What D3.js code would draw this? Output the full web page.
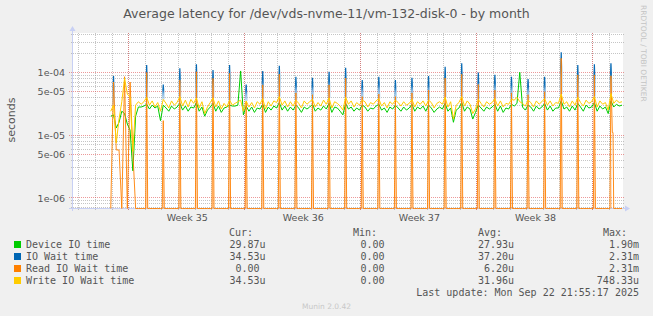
<!DOCTYPE html>
<html><head><meta charset="utf-8">
<script src="https://cdn.jsdelivr.net/npm/d3@7"></script>
<style>
html,body{margin:0;padding:0;background:#F0F0F0;}
svg{display:block;}
</style></head><body>
<svg id="chart" width="653" height="316"></svg>
<script>
// ---------------- data ----------------
const title = "Average latency for /dev/vds-nvme-11/vm-132-disk-0 - by month";
const yAxisTitle = "seconds";
const seriesNames = ["Device IO time", "IO Wait time", "Read IO Wait time", "Write IO Wait time"];
const seriesColors = ["#00CC00", "#0066B3", "#FF8000", "#FFCC00"];
const legendHeaders = ["Cur:", "Min:", "Avg:", "Max:"];
const legendCur = ["29.87u", "34.53u", "0.00", "34.53u"];
const legendMin = ["0.00", "0.00", "0.00", "0.00"];
const legendAvg = ["27.93u", "37.20u", "6.20u", "31.96u"];
const legendMax = ["1.90m", "2.31m", "2.31m", "748.33u"];
const lastUpdate = "Last update: Mon Sep 22 21:55:17 2025";
const footer = "Munin 2.0.42";
const watermark = "RRDTOOL / TOBI OETIKER";

const yTickValues = [1e-4, 5e-5, 1e-5, 5e-6, 1e-6];
const yTickLabels = ["1e-04", "5e-05", "1e-05", "5e-06", "1e-06"];
const weekStarts = ["2025-08-24", "2025-08-31", "2025-09-07", "2025-09-14"];
const weekLabels = ["Week 35", "Week 36", "Week 37", "Week 38"];
const viewStart = "2025-08-20T13:55:00Z";
const viewEnd = "2025-09-22T19:26:00Z";
const yDomain = [6.905e-7, 4.224e-4];

// 4-hourly samples (microseconds) starting at sampleStart
const sampleStart = "2025-08-22T22:00:00Z";
const sampleHours = 4;
const deviceIO = [
 20,21,13,16,24,22, 15,12,2.7,20,28,28, 29,31,26,30,27,29, 17,30,27,24,29,26,
 28,32,25,29,24,28, 27,33,24,28,20,25, 28,32,24,29,23,27, 28,30,29,29,30,105,
 21,29,24,28,23,27, 26,31,23,28,25,29, 27,33,25,29,24,28, 25,30,27,23,28,26,
 28,31,24,27,25,29, 26,32,23,28,27,24, 21,32,26,28,24,27, 25,30,28,24,27,26,
 29,31,25,27,23,28, 26,30,27,24,28,25, 27,31,24,28,26,29, 24,30,27,23,26,28,
 26,32,24,27,16,25, 27,33,24,28,26,18, 23,30,27,24,28,26, 28,31,24,29,23,27,
 26,31,29,32,100,28, 25,30,28,24,29,26, 28,32,25,29,24,27, 27,35,26,28,24,29,
 25,32,28,24,30,27, 28,33,24,29,26,28, 22,35,28,31,29,30
];
const writeWait = [
 24,30,7.5,18,34,80, 45,40,5.5,30,34,31, 34,40,30,35,28,33, 24,37,32,27,35,30,
 33,41,29,36,28,37, 32,39,27,34,22,28, 33,39,28,35,26,32, 28,36,30,32,34,36,
 24,35,28,33,27,34, 31,38,26,34,29,35, 33,41,30,35,28,34, 29,36,32,27,35,31,
 34,37,28,33,29,36, 31,39,27,34,32,29, 25,40,31,35,28,33, 30,36,34,28,33,31,
 35,38,29,33,27,34, 31,36,33,29,34,30, 32,37,28,34,31,35, 29,36,33,27,32,34,
 31,40,28,34,18,30, 33,41,29,35,31,22, 26,37,32,28,34,31, 33,38,29,35,28,32,
 31,37,36,40,34,32, 29,36,33,28,35,31, 34,38,30,35,29,33, 32,45,31,34,28,35,
 30,40,33,29,36,32, 34,41,28,35,31,33, 25,46,32,36,33,34
];
// read wait during the first samples (0 = no reads)
const readWaitEarly = [0, 70, 5.8, 5.8, 0, 85, 0, 70, 5.5, 0, 0];

// daily spikes (backup jobs), one per day starting at spikeStart
const spikeStart = "2025-08-23T02:00:00Z";
const ioWaitPeaks = [87,null,131,64,116,134,109,131,64,105,127,85,82,102,118,75,85,75,82,87,123,139,99,91,85,78,85,208,131,134,139];
const readWaitPeaks = [null,null,99,17,75,102,80,96,34,63,93,47,44,63,81,41,45,41,47,52,81,93,64,52,47,44,49,167,91,91,88];
const readWaitAfter = [null,null,null,null,null,null,null,null,null,null,null,null,null,null,null,null,null,null,null,null,null,null,null,null,null,null,null,null,null,null,11];

// ---------------- layout ----------------
const svg = d3.select("#chart");
const X0 = 72, X1 = 623, Y0 = 208, Y1 = 33;
const H = 3600e3, D = 86400e3;
const textCol = "#555";
const spikeHalf = 1.5 * H;

svg.append("rect").attr("width", 653).attr("height", 316).attr("fill", "#F0F0F0");
svg.append("rect").attr("x", X0).attr("y", Y1).attr("width", X1 - X0).attr("height", Y0 - Y1).attr("fill", "#FFFFFF");

const x = d3.scaleUtc().domain([new Date(viewStart), new Date(viewEnd)]).range([X0, X1]);
const y = d3.scaleLog().domain(yDomain).range([Y0, Y1]).clamp(true);
const yPos = v => v > 0 ? y(v) : Y0 + 0.5;
const px = v => Math.round(v) + 0.5;

// horizontal grid
const minorVals = [], majorVals = [];
for (let e = -7; e <= -3; e++) {
  [1, 5].forEach(m => { const v = m * Math.pow(10, e); if (v >= yDomain[0] && v <= yDomain[1]) majorVals.push(v); });
  [2, 3, 4, 6, 7, 8, 9].forEach(m => { const v = m * Math.pow(10, e); if (v >= yDomain[0] && v <= yDomain[1]) minorVals.push(v); });
}
const grid = svg.append("g").attr("shape-rendering", "crispEdges");
grid.selectAll(".hmin").data(minorVals).join("line")
  .attr("x1", X0 - 1).attr("x2", X1 + 1).attr("y1", d => px(y(d) - 0.5)).attr("y2", d => px(y(d) - 0.5))
  .attr("stroke", "rgba(140,140,140,0.5)").attr("stroke-dasharray", "1,1");
const days = d3.utcDay.range(x.domain()[0], x.domain()[1]);
const sundays = d3.utcSunday.range(x.domain()[0], x.domain()[1]);
grid.selectAll(".vmin").data(days).join("line")
  .attr("x1", d => px(x(d) - 0.5)).attr("x2", d => px(x(d) - 0.5)).attr("y1", Y1).attr("y2", Y0 + 2)
  .attr("stroke", "rgba(140,140,140,0.5)").attr("stroke-dasharray", "1,1");
grid.selectAll(".hmaj").data(majorVals).join("line")
  .attr("x1", X0 - 3).attr("x2", X1 + 2).attr("y1", d => px(y(d) - 0.5)).attr("y2", d => px(y(d) - 0.5))
  .attr("stroke", "rgba(220,70,70,0.55)").attr("stroke-dasharray", "1,1");
grid.selectAll(".vmaj").data(sundays).join("line")
  .attr("x1", d => px(x(d) - 0.5)).attr("x2", d => px(x(d) - 0.5)).attr("y1", Y1).attr("y2", Y0 + 3)
  .attr("stroke", "rgba(220,70,70,0.55)").attr("stroke-dasharray", "1,1");

// axes lines + arrows
const axisCol = "#C8D0F4";
svg.append("line").attr("x1", X0 + 0.5).attr("x2", X0 + 0.5).attr("y1", Y0 + 3).attr("y2", Y1 - 3)
  .attr("stroke", axisCol).attr("shape-rendering", "crispEdges");
svg.append("line").attr("x1", X0 - 3).attr("x2", X1 + 3).attr("y1", Y0 + 0.5).attr("y2", Y0 + 0.5)
  .attr("stroke", axisCol).attr("shape-rendering", "crispEdges");
svg.append("path").attr("d", `M${X0 - 2.5},${Y1 - 2} L${X0 + 3.5},${Y1 - 2} L${X0 + 0.5},${Y1 - 7} Z`).attr("fill", axisCol);
svg.append("path").attr("d", `M${X1 + 2},${Y0 - 2.5} L${X1 + 2},${Y0 + 3.5} L${X1 + 7},${Y0 + 0.5} Z`).attr("fill", axisCol);

// axis labels via d3 axes
const yAx = svg.append("g").attr("transform", `translate(${X0},0)`)
  .call(d3.axisLeft(y).tickValues(yTickValues).tickFormat((d, i) => yTickLabels[i]).tickSize(0).tickPadding(7));
yAx.select(".domain").remove();
yAx.selectAll("text").attr("font-family", "DejaVu Sans").attr("font-size", 9.5).attr("fill", textCol).attr("dy", "0.34em");

const mids = weekStarts.map(s => new Date(new Date(s + "T00:00:00Z").getTime() + 3.5 * D));
const xAx = svg.append("g").attr("transform", `translate(0,${Y0})`)
  .call(d3.axisBottom(x).tickValues(mids).tickFormat((d, i) => weekLabels[i]).tickSize(0));
xAx.select(".domain").remove();
xAx.selectAll("text").attr("font-family", "DejaVu Sans").attr("font-size", 9.5).attr("fill", textCol)
  .attr("y", 12.8).attr("dy", 0);

// ---------------- series ----------------
const clip = svg.append("clipPath").attr("id", "plotclip");
clip.append("rect").attr("x", X0).attr("y", Y1).attr("width", X1 - X0).attr("height", Y0 - Y1 + 1);
const plot = svg.append("g").attr("clip-path", "url(#plotclip)");

const t0 = new Date(sampleStart).getTime();
const sT0 = new Date(spikeStart).getTime();
const sampleTime = i => t0 + i * sampleHours * H;
const line = d3.line().x(d => x(new Date(d[0]))).y(d => yPos(d[1] * 1e-6));

const devPts = deviceIO.map((v, i) => [sampleTime(i), v]);
const wrPts = writeWait.map((v, i) => [sampleTime(i), v]);
const spikes = ioWaitPeaks.map((v, k) => {
  const t = sT0 + k * D;
  const idx = Math.round((t - t0) / (sampleHours * H));
  return { t, idx, io: v, rd: readWaitPeaks[k], after: readWaitAfter[k] };
});

// green
plot.append("path").attr("d", line(devPts)).attr("fill", "none").attr("stroke", seriesColors[0]).attr("stroke-width", 1);

// blue spikes
const bgrad = svg.append("defs").append("linearGradient").attr("id", "bgrad").attr("x1", 0).attr("x2", 0).attr("y1", 0).attr("y2", 1);
bgrad.append("stop").attr("offset", "0").attr("stop-color", "#0066B3").attr("stop-opacity", 1);
bgrad.append("stop").attr("offset", "0.35").attr("stop-color", "#0066B3").attr("stop-opacity", 0.9);
bgrad.append("stop").attr("offset", "0.6").attr("stop-color", "#5c9fd6").attr("stop-opacity", 0.6);
bgrad.append("stop").attr("offset", "1").attr("stop-color", "#9cc3e6").attr("stop-opacity", 0.4);
spikes.filter(s => s.io != null).forEach(s => {
  const b = writeWait[s.idx];
  const pts = [[s.t - spikeHalf, b], [s.t, s.io], [s.t + spikeHalf, b]];
  plot.append("path").attr("d", line(pts)).attr("fill", "url(#bgrad)")
    .attr("stroke", "url(#bgrad)").attr("stroke-width", 1.2);
});

// orange (read wait), zero clamps to the bottom edge
const orangePts = [];
writeWait.forEach((_, i) => {
  const t = sampleTime(i);
  const sp = spikes.find(s => s.rd != null && s.t === t);
  if (sp) {
    orangePts.push([t - spikeHalf, 0], [t, sp.rd]);
    if (sp.after) orangePts.push([t + 2 * H, sp.after], [t + 3 * H, sp.after]);
    else orangePts.push([t + spikeHalf, 0]);
  } else {
    orangePts.push([t, i < readWaitEarly.length ? readWaitEarly[i] : 0]);
  }
});
spikes.filter(s => s.rd != null).forEach(s => {
  const pts = [[s.t - spikeHalf, 0], [s.t, s.rd], [s.t + spikeHalf, 0]];
  plot.append("path").attr("d", line(pts) + "Z").attr("fill", "rgba(255,150,60,0.35)").attr("stroke", "none");
});
plot.append("path").attr("d", line(orangePts)).attr("fill", "none").attr("stroke", seriesColors[2]).attr("stroke-width", 0.9);

// yellow
plot.append("path").attr("d", line(wrPts)).attr("fill", "none").attr("stroke", seriesColors[3]).attr("stroke-width", 1);

// ---------------- texts ----------------
svg.append("text").attr("x", 326.5).attr("y", 18).attr("text-anchor", "middle")
  .attr("font-family", "DejaVu Sans").attr("font-size", 12.5).attr("fill", textCol).text(title);
svg.append("text").attr("transform", "translate(15,120) rotate(-90)").attr("text-anchor", "middle")
  .attr("font-family", "DejaVu Sans").attr("font-size", 11).attr("fill", textCol).text(yAxisTitle);
svg.append("text").attr("transform", "translate(641,5) rotate(90)").attr("text-anchor", "start")
  .attr("font-family", "DejaVu Sans").attr("font-size", 7.5).attr("fill", "#c4c4c4").text(watermark);

const mono = "DejaVu Sans Mono";
const lg = svg.append("g").attr("font-family", mono).attr("font-size", 10).attr("fill", textCol);
const headX = [229, 353, 478, 603];
legendHeaders.forEach((h, i) => lg.append("text").attr("x", headX[i]).attr("y", 236).text(h));
const colX = [265.5, 390.5, 514, 639];
const cols = [legendCur, legendMin, legendAvg, legendMax];
const fmt = s => /[0-9]$/.test(s) ? s + "\u00a0" : s;
seriesNames.forEach((n, r) => {
  const by = 248 + r * 12;
  lg.append("rect").attr("x", 14).attr("y", by - 7).attr("width", 7).attr("height", 7).attr("fill", seriesColors[r]);
  lg.append("text").attr("x", 26).attr("y", by).text(n);
  cols.forEach((c, j) => lg.append("text").attr("x", colX[j]).attr("y", by).attr("text-anchor", "end").text(fmt(c[r])));
});
lg.append("text").attr("x", 639).attr("y", 296).attr("text-anchor", "end").text(lastUpdate);
svg.append("text").attr("x", 326.5).attr("y", 308.5).attr("text-anchor", "middle")
  .attr("font-family", "DejaVu Sans").attr("font-size", 7.5).attr("fill", "#c8c8c8").text(footer);
</script>
</body></html>
